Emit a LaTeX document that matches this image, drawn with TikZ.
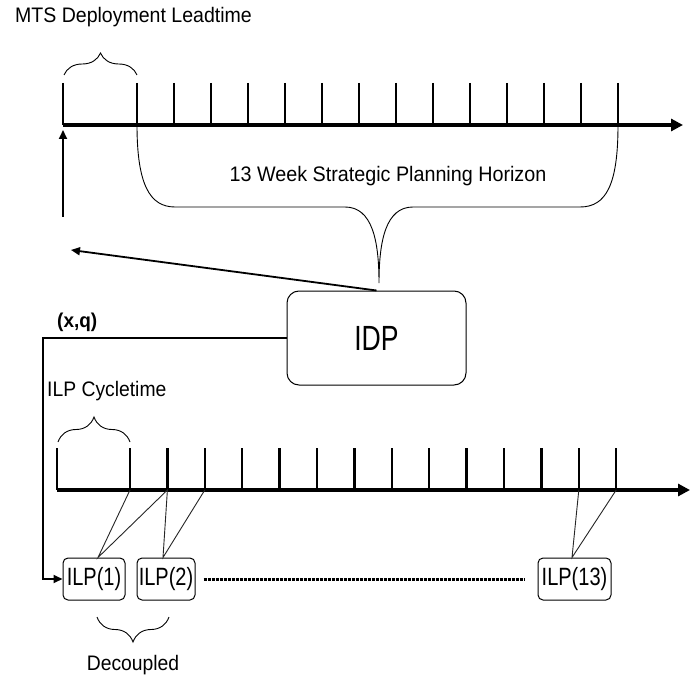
\documentclass[tikz,border=0pt]{standalone}
\usepackage{fontspec}
\setmainfont{Liberation Sans}
\usetikzlibrary{arrows.meta,decorations.pathreplacing,calc}
\begin{document}
\begin{tikzpicture}[x=1pt,y=-1pt,
  axisline/.style={line width=3.4pt,-{Triangle[length=12pt,width=12pt]}},
  tickline/.style={line width=2.3pt},
  thinline/.style={line width=0.9pt,draw=black!85},
  conn/.style={line width=1.8pt,-{Triangle[length=9pt,width=8pt]}},
  bracestyle/.style={line width=0.9pt,decorate,decoration={brace,amplitude=#1}},
  lbl/.style={font=\fontsize{21}{25}\selectfont,inner sep=0pt},
  idpbox/.style={draw,line width=1pt,rounded corners=12pt,minimum width=179pt,minimum height=94pt,inner sep=0pt},
  ilpbox/.style={draw,line width=1pt,rounded corners=5pt,minimum height=42pt,inner sep=0pt},
  dotline/.style={line width=3pt,dash pattern=on 3pt off 1pt}]
\path[fill=white] (0,0) rectangle (698,676);
\useasboundingbox (0,0) rectangle (698,676);

% ---------- top time axis ----------
\coordinate (ta0) at (63,125);
\coordinate (ta1) at (683,125);
\draw[axisline] (ta0) -- (ta1);
\coordinate (tz) at (63,125);
\draw[tickline] (63,83) -- (tz);
\foreach \i in {0,...,13}{
  \coordinate (t\i) at ({137+37*\i},125);
  \draw[tickline] ({137+37*\i},83) -- (t\i);
}
\coordinate (mb0) at (64,75);
\coordinate (mb1) at (137,75);
\draw[bracestyle=22pt] (mb0) -- (mb1);

\node[lbl,anchor=base west] (title) at (15,23) {\scalebox{0.93}[1]{MTS Deployment Leadtime}};

% big brace
\coordinate (tip) at (379,283);
\draw[line width=0.9pt] (t0) .. controls (137,185) and (150,207) .. (175,207) -- (345,207)
   .. controls (372,207) and (379,240) .. (tip)
   .. controls (379,240) and (386,207) .. (413,207) -- (580,207)
   .. controls (606,207) and (618,185) .. (t13);
\node[lbl,anchor=base] (horizon) at (388,182) {\scalebox{0.94}[1]{13 Week Strategic Planning Horizon}};

% up arrow
\coordinate (ua0) at (63,217);
\coordinate (ua1) at (63,130);
\draw[conn] (ua0) -- (ua1);

% IDP
\node[idpbox] (idp) at (376.5,338) {\scalebox{0.76}[1]{\fontsize{35}{40}\selectfont IDP}};
\coordinate (la) at (71,250);
\draw[conn] (idp.north) -- (la);

\node[anchor=base west,inner sep=0pt,font=\fontsize{20}{24}\selectfont\bfseries] (xq) at (57,327) {\scalebox{0.95}[1]{(x,q)}};

% ---------- lower time axis ----------
\coordinate (ba0) at (57,490);
\coordinate (ba1) at (690,490);
\draw[axisline] (ba0) -- (ba1);
\coordinate (bz) at (57,490);
\draw[tickline] (57,448) -- (bz);
\foreach \i in {0,...,13}{
  \coordinate (b\i) at ({130+37.4*\i},490);
  \draw[tickline] ({130+37.4*\i},448) -- (b\i);
}
\coordinate (cb0) at (58,442);
\coordinate (cb1) at (130,442);
\draw[bracestyle=25pt] (cb0) -- (cb1);
\node[lbl,anchor=base west] (cyc) at (47,396) {\scalebox{0.92}[1]{ILP Cycletime}};

% ILP boxes
\node[ilpbox,minimum width=62pt] (ilp1) at (94,579) {\scalebox{0.8}[1]{\fontsize{25}{30}\selectfont ILP(1)}};
\node[ilpbox,minimum width=58pt] (ilp2) at (166,579) {\scalebox{0.8}[1]{\fontsize{25}{30}\selectfont ILP(2)}};
\node[ilpbox,minimum width=73pt] (ilp13) at (574.5,579) {\scalebox{0.8}[1]{\fontsize{25}{30}\selectfont ILP(13)}};

\coordinate (p1) at ([xshift=4pt]ilp1.north);
\coordinate (p2) at ([xshift=-3pt]ilp2.north);
\coordinate (p13) at ([xshift=-2.5pt]ilp13.north);
\draw[thinline] (b0) -- (p1) -- (b1) -- (p2) -- (b2);
\draw[thinline] (b12) -- (p13) -- (b13);

\draw[dotline,shorten <=8pt,shorten >=13pt] (ilp2.east) -- (ilp13.west);

% feedback (x,q)
\coordinate (c2) at (43,579);
\draw[conn] (idp.west) -| (c2) -- (ilp1.west);

% decoupled brace
\coordinate (db0) at (169,617);
\coordinate (db1) at (97,617);
\draw[bracestyle=25pt] (db0) -- (db1);
\node[lbl,anchor=base] (dec) at (133,670) {\scalebox{0.92}[1]{Decoupled}};
\end{tikzpicture}
\end{document}
